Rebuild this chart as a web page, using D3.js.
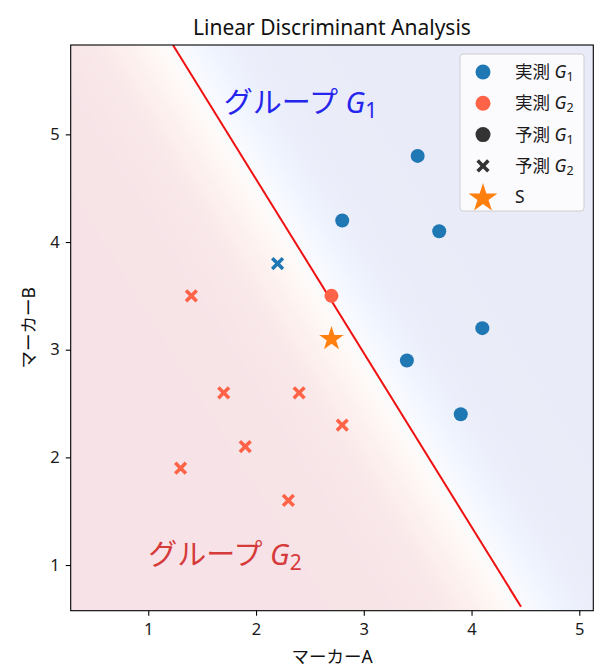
<!DOCTYPE html>
<html><head><meta charset="utf-8">
<script src="https://cdn.jsdelivr.net/npm/d3@7"></script>
<style>
html,body{margin:0;padding:0;background:#fff;}
svg text{font-family:"Noto Sans","Noto Sans CJK JP",sans-serif;}
</style></head>
<body><div id="chart"></div>
<script>
// ---- data ----
const actualG1 = [[3.5,4.8],[2.8,4.2],[3.7,4.1],[4.1,3.2],[3.4,2.9],[3.9,2.4]];
const actualG2PredG1 = [[2.7,3.5]];
const actualG1PredG2 = [[2.2,3.8]];
const actualG2 = [[1.4,3.5],[1.7,2.6],[2.4,2.6],[1.9,2.1],[2.8,2.3],[1.3,1.9],[2.3,1.6]];
const sample = [[2.7,3.1]];
const boundary = [[1.229,5.83],[4.459,0.613]];
const xTicks = [1,2,3,4,5];
const yTicks = [1,2,3,4,5];
const xDomain = [0.28,5.13];
const yDomain = [0.576,5.83];
const legendItems = [
  {pre:"実測 ", sub:"1", kind:"circle", color:"#1f77b4"},
  {pre:"実測 ", sub:"2", kind:"circle", color:"#ff6347"},
  {pre:"予測 ", sub:"1", kind:"circle", color:"#333333"},
  {pre:"予測 ", sub:"2", kind:"x", color:"#333333"},
  {pre:"S", sub:null, kind:"star", color:"#ff7f0e"}
];

const W=610,H=670;
const L=70.7,R=593.3,T=45,B=610.7;
const x=d3.scaleLinear().domain(xDomain).range([L,R]);
const y=d3.scaleLinear().domain(yDomain).range([B,T]);
const FF='"Noto Sans","Noto Sans CJK JP",sans-serif';

const svg=d3.select("#chart").append("svg").attr("width",W).attr("height",H);
const defs=svg.append("defs");
defs.append("clipPath").attr("id","clip").append("rect")
  .attr("x",L).attr("y",T).attr("width",R-L).attr("height",B-T);

// coolwarm approximation
const cw=[[59,76,192],[98,130,234],[141,176,254],[184,208,249],[221,221,221],[245,196,173],[244,154,123],[222,96,77],[180,4,38]];
function coolwarm(p){
  const s=p*(cw.length-1); const i=Math.min(cw.length-2,Math.floor(s)); const f=s-i;
  return cw[i].map((v,k)=>v+(cw[i+1][k]-v)*f);
}
const alpha=0.11;
const p0=[x(boundary[0][0]),y(boundary[0][1])], p1=[x(boundary[1][0]),y(boundary[1][1])];
const dx=p1[0]-p0[0], dy=p1[1]-p0[1], len=Math.hypot(dx,dy);
const u=[dx/len,dy/len]; const n=[u[1],-u[0]]; // toward G1 side
const c=[(p0[0]+p1[0])/2,(p0[1]+p1[1])/2];
const D=500, sc=24;
const grad=defs.append("linearGradient").attr("id","bg").attr("gradientUnits","userSpaceOnUse")
  .attr("x1",c[0]-n[0]*D).attr("y1",c[1]-n[1]*D).attr("x2",c[0]+n[0]*D).attr("y2",c[1]+n[1]*D);
for(let t=0;t<=1.0001;t+=0.005){
  const d=-D+2*D*t;
  const pr=1/(1+Math.exp((d+4)/sc));
  const col=coolwarm(pr).map(v=>Math.round(255+(v-255)*alpha));
  grad.append("stop").attr("offset",t).attr("stop-color",`rgb(${col[0]},${col[1]},${col[2]})`);
}
svg.append("rect").attr("x",L).attr("y",T).attr("width",R-L).attr("height",B-T).attr("fill","url(#bg)");

const plot=svg.append("g").attr("clip-path","url(#clip)");
plot.append("line").attr("x1",p0[0]).attr("y1",p0[1]).attr("x2",p1[0]).attr("y2",p1[1])
  .attr("stroke","#f01010").attr("stroke-width",2);

// annotations
function groupLabel(g,xx,yy,sub,color){
  const t=g.append("text").attr("x",x(xx)).attr("y",y(yy)).attr("fill",color).style("font-size","29px");
  t.append("tspan").text("グループ ");
  t.append("tspan").attr("font-style","italic").text("G");
  t.append("tspan").style("font-size","21px").attr("dy",5).text(sub);
}
groupLabel(svg,1.7,5.2,"1","#2525ee");
groupLabel(svg,1.0,1.0,"2","#d63b3b");

// custom X marker
const xSym={draw(ctx,size){
  const h=Math.sqrt(size)/2, t=h*0.38;
  const pts=[[-h,-h+t],[-h+t,-h],[0,-t],[h-t,-h],[h,-h+t],[t,0],[h,h-t],[h-t,h],[0,t],[-h+t,h],[-h,h-t],[-t,0]];
  ctx.moveTo(pts[0][0],pts[0][1]); for(let i=1;i<pts.length;i++) ctx.lineTo(pts[i][0],pts[i][1]); ctx.closePath();
}};
const xPath=d3.symbol(xSym,175)();
const starPath=d3.symbol(d3.symbolStar,185)();

plot.selectAll(".g1").data(actualG1).join("circle").attr("cx",d=>x(d[0])).attr("cy",d=>y(d[1])).attr("r",7).attr("fill","#1f77b4");
plot.selectAll(".g2c").data(actualG2PredG1).join("circle").attr("cx",d=>x(d[0])).attr("cy",d=>y(d[1])).attr("r",7).attr("fill","#ff6347");
plot.selectAll(".g1x").data(actualG1PredG2).join("path").attr("d",xPath).attr("transform",d=>`translate(${x(d[0])},${y(d[1])})`).attr("fill","#1f77b4");
plot.selectAll(".g2x").data(actualG2).join("path").attr("d",xPath).attr("transform",d=>`translate(${x(d[0])},${y(d[1])})`).attr("fill","#ff6347");
plot.selectAll(".s").data(sample).join("path").attr("d",starPath).attr("transform",d=>`translate(${x(d[0])},${y(d[1])})`).attr("fill","#ff7f0e");

// axes
const xa=svg.append("g").attr("transform",`translate(0,${B})`).call(d3.axisBottom(x).tickValues(xTicks).tickFormat(d3.format("d")).tickSize(5).tickPadding(8));
const ya=svg.append("g").attr("transform",`translate(${L},0)`).call(d3.axisLeft(y).tickValues(yTicks).tickFormat(d3.format("d")).tickSize(5).tickPadding(6));
[xa,ya].forEach(a=>{a.select(".domain").remove();a.attr("font-size",null).attr("font-family",null);
  a.selectAll("line").attr("stroke","#000").attr("stroke-width",1.1);
  a.selectAll("text").style("font-size","16.5px").attr("fill","#1a1a1a").style("font-family",FF);});
svg.append("rect").attr("x",L).attr("y",T).attr("width",R-L).attr("height",B-T).attr("fill","none").attr("stroke","#000").attr("stroke-width",1.1);

// titles
svg.append("text").attr("x",(L+R)/2).attr("y",35).attr("text-anchor","middle").style("font-size","21px").attr("fill","#111").text("Linear Discriminant Analysis");
svg.append("text").attr("x",(L+R)/2).attr("y",663).attr("text-anchor","middle").style("font-size","17.5px").attr("fill","#111").text("マーカーA");
svg.append("text").attr("transform",`translate(35,${(T+B)/2}) rotate(-90)`).attr("text-anchor","middle").style("font-size","17.5px").attr("fill","#111").text("マーカーB");

// legend
const lg=svg.append("g");
lg.append("rect").attr("x",460).attr("y",54).attr("width",124).attr("height",157).attr("rx",3)
  .attr("fill","#fff").attr("fill-opacity",0.8).attr("stroke","#d0d0d0").attr("stroke-width",1);
const rowY=i=>72+i*31.3;
legendItems.forEach((it,i)=>{
  const yy=rowY(i);
  if(it.kind==="circle") lg.append("circle").attr("cx",483).attr("cy",yy).attr("r",7.5).attr("fill",it.color);
  else if(it.kind==="x") lg.append("path").attr("d",xPath).attr("transform",`translate(483,${yy})`).attr("fill",it.color);
  else lg.append("path").attr("d",d3.symbol(d3.symbolStar,260)()).attr("transform",`translate(483,${yy+1})`).attr("fill",it.color);
  const t=lg.append("text").attr("x",515).attr("y",yy+6).style("font-size","17.5px").attr("fill","#1a1a1a");
  t.append("tspan").text(it.pre);
  if(it.sub){t.append("tspan").attr("font-style","italic").text("G");
    t.append("tspan").style("font-size","12.5px").attr("dy",3).text(it.sub);}
});
</script></body></html>
